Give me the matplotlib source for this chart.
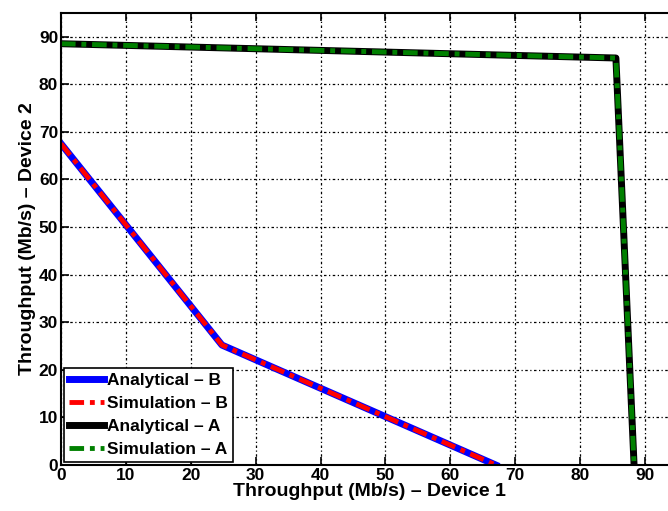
import matplotlib
matplotlib.use("Agg")
import matplotlib.pyplot as plt

# curve vertices (Mb/s)
b_x = [0, 24.8, 67]
b_y = [67.5, 25.2, 0]
a_x = [0, 85.5, 88.3]
a_y = [88.5, 85.5, 0]

x_ticks = list(range(0, 100, 10))
y_ticks = list(range(0, 100, 10))

plt.rcParams["font.family"] = ["Liberation Sans", "DejaVu Sans"]
plt.rcParams["font.weight"] = "bold"

fig = plt.figure(figsize=(6.68, 5.11), dpi=100)
ax = fig.add_axes([0.0913, 0.09, 0.923, 0.885])

ax.plot(b_x, b_y, color="#0000ff", lw=5, solid_joinstyle="round", label="Analytical \u2013 B")
ax.plot(b_x, b_y, color="#ff0000", lw=3.5, ls=(0, (3, 1.2, 1, 1.2)), label="Simulation \u2013 B")
ax.plot(a_x, a_y, color="black", lw=5, solid_joinstyle="round", label="Analytical \u2013 A")
ax.plot(a_x, a_y, color="#008000", lw=3.5, ls=(0, (3, 1.2, 1, 1.2)), label="Simulation \u2013 A")

ax.set_xlim(0, 95)
ax.set_ylim(0, 95)
ax.set_xticks(x_ticks)
ax.set_yticks(y_ticks)
ax.grid(True, color="black", lw=0.9, ls=(0, (2, 2, 1, 2)))
ax.tick_params(direction="in", length=6, width=1.2, top=True, right=True, labelsize=12.5, pad=2)
for lab in ax.get_xticklabels() + ax.get_yticklabels():
    lab.set_fontweight("bold")
for sp in ax.spines.values():
    sp.set_linewidth(1.5)

ax.set_xlabel("Throughput (Mb/s) \u2013 Device 1", fontsize=14, fontweight="bold", labelpad=0)
ax.set_ylabel("Throughput (Mb/s) \u2013 Device 2", fontsize=14, fontweight="bold", labelpad=2)

leg = ax.legend(loc="lower left", fontsize=12.5, handlelength=2.0, handletextpad=0.2,
                borderaxespad=0.15, labelspacing=0.45, borderpad=0.3, fancybox=False,
                framealpha=1, edgecolor="black")
leg.get_frame().set_linewidth(1.2)
for t in leg.get_texts():
    t.set_fontweight("bold")

fig.savefig("out.png", dpi=100)
